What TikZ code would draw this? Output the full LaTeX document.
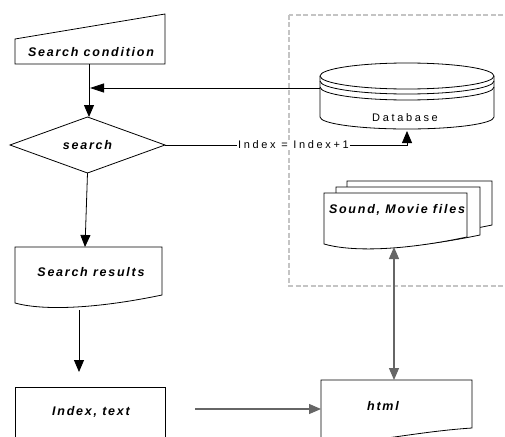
\documentclass[tikz,border=0pt]{standalone}
\usepackage{fontspec}
\setmainfont{Liberation Sans}
\newfontfamily\lblfont[LetterSpace=14]{Liberation Sans}
\newfontfamily\smfont[LetterSpace=24]{Liberation Sans}
\usetikzlibrary{arrows.meta}
\definecolor{dashgray}{HTML}{C4C4C4}
\definecolor{linkgray}{HTML}{666666}
\tikzset{
  outline/.style={draw=black, line width=0.8pt, fill=white},
  lbl/.style={font=\fontsize{12.5}{14}\lblfont\bfseries\itshape\selectfont, inner sep=0pt},
  sm/.style={font=\fontsize{11}{13}\smfont\selectfont, inner sep=1pt},
  conn/.style={draw=black, line width=0.8pt, -{Triangle[length=12pt,width=10pt]}},
  grayconn/.style={draw=linkgray, line width=1.2pt, -{Triangle[length=12pt,width=10pt]}},
  plain/.style={draw=black, line width=0.8pt}
}
\begin{document}
\begin{tikzpicture}[x=1pt,y=-1pt]
\useasboundingbox (0,0) rectangle (505,436);
\clip (0,0) rectangle (505,436);
\fill[white] (0,0) rectangle (505,436);

% dashed frame
\draw[dashgray, line width=2.2pt, dash pattern=on 5pt off 2.5pt] (289,15) rectangle (530,286);

% Search condition (manual input)
\draw[outline] (15,39) -- (165,14) -- (165,64) -- (15,64) -- cycle;
\node[lbl] (sc) at (91,52) {Search condition};
\coordinate (scb) at (89,64);

% search (decision)
\draw[outline] (10,145) -- (87.5,117) -- (165,145) -- (87.5,173) -- cycle;
\node[lbl] (srch) at (87.5,145) {search};
\coordinate (srchT) at (89,117);
\coordinate (srchB) at (87.5,173);
\coordinate (srchR) at (165,145);

% Search results (document)
\draw[outline] (15,247) -- (162,247) -- (162,295) .. controls (90,310) and (40,310) .. (15,303) -- cycle;
\node[lbl] (res) at (91,272) {Search results};
\coordinate (resT) at (85,247);
\coordinate (resB) at (79,310);
\coordinate (idxArr) at (79,372);

% Index, text
\draw[outline] (15,387) rectangle (165,445);
\node[lbl] (it) at (91,412) {Index, text};
\coordinate (itOut) at (195,409);

% Database (cylinder)
\draw[outline] (320,76) -- (320,117) arc[start angle=180, end angle=0, x radius=87, y radius=12] -- (494,76);
\draw[outline] (407,76) ellipse[x radius=87, y radius=13];
\draw[plain] (320,81) arc[start angle=180, end angle=0, x radius=87, y radius=13];
\draw[plain] (320,87) arc[start angle=180, end angle=0, x radius=87, y radius=13];
\node[sm] (db) at (405,118) {Database};
\coordinate (dbL) at (320,88);
\coordinate (scLine) at (90,88);
\coordinate (dbB) at (407,131);
\coordinate (corner) at (407,145);

% Sound, Movie files (multi document)
\draw[outline] (347,181) -- (492,181) -- (492,225) .. controls (420,240) and (372,239) .. (347,232) -- cycle;
\draw[outline] (336,187) -- (480,187) -- (480,235) .. controls (408,250) and (360,249) .. (336,242) -- cycle;
\draw[outline] (324,193) -- (467,193) -- (467,237) .. controls (396,252) and (348,251) .. (324,244) -- cycle;
\node[lbl] (snd) at (397,210) {Sound, Movie files};
\coordinate (sndB) at (394,247);

% html (document)
\draw[outline] (321,380) -- (472,380) -- (472,428) .. controls (410,432) and (360,446) .. (321,441) -- cycle;
\node[lbl] (html) at (383,406) {html};
\coordinate (htmlT) at (394,380);
\coordinate (htmlL) at (321,409);

% Index = Index+1 label
\node[sm, fill=white] (inc) at (293.5,145) {Index = Index+1};

% connectors
\draw[conn] (scb) -- (srchT);
\draw[conn] (srchB) -- (resT);
\draw[conn] (resB) -- (idxArr);
\draw[conn, -{Triangle[length=14pt,width=9pt]}] (dbL) -- (scLine);
\draw[plain] (srchR) -- (inc.west);
\draw[conn] (inc.east) -- (corner) -- (dbB);
\draw[grayconn] (itOut) -- (htmlL);
\draw[grayconn, {Triangle[length=12pt,width=10pt]}-{Triangle[length=12pt,width=10pt]}] (sndB) -- (htmlT);
\end{tikzpicture}
\end{document}
